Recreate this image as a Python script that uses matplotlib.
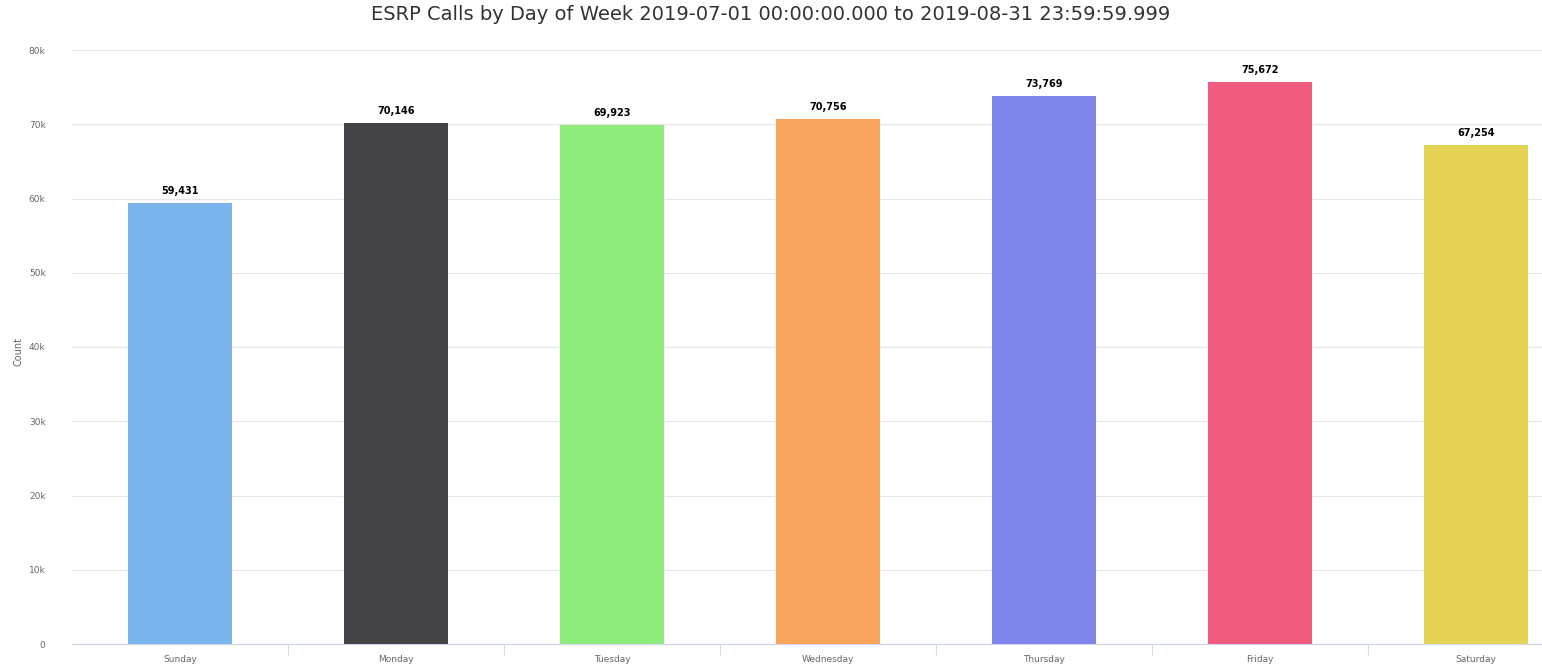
import matplotlib
matplotlib.use("Agg")
import matplotlib.pyplot as plt
from matplotlib.ticker import FuncFormatter, MultipleLocator

days = ["Sunday", "Monday", "Tuesday", "Wednesday", "Thursday", "Friday", "Saturday"]
calls = [59431, 70146, 69923, 70756, 73769, 75672, 67254]
colors = ["#7cb5ec", "#434348", "#90ed7d", "#f7a35c", "#8085e9", "#f15c80", "#e4d354"]

W, H = 1542, 667
fig = plt.figure(figsize=(W / 100, H / 100), dpi=100)
# plot area runs slightly past the right edge of the canvas
ax = fig.add_axes([72 / W, (H - 644) / H, (1584 - 72) / W, (644 - 50) / H])

x = range(len(days))
ax.bar(x, calls, width=0.477, color=colors, zorder=3)
for i, v in enumerate(calls):
    ax.annotate(f"{v:,}", (i, v), xytext=(0, 5), textcoords="offset points",
                ha="center", va="bottom", fontsize=7, fontweight="bold", color="#000000")

ax.set_xlim(-0.5, len(days) - 0.5)
ax.set_ylim(0, 80000)
ax.yaxis.set_major_locator(MultipleLocator(10000))
ax.yaxis.set_major_formatter(FuncFormatter(lambda v, p: "0" if v == 0 else f"{int(v/1000)}k"))
ax.grid(axis="y", color="#e6e6e6", linewidth=0.8, zorder=0)

ax.set_xticks(list(x))
ax.set_xticklabels(days)
ax.set_xticks([i + 0.5 for i in range(len(days) - 1)], minor=True)
ax.tick_params(axis="x", which="major", length=0, pad=8, labelsize=6.5, labelcolor="#666666")
ax.tick_params(axis="x", which="minor", length=8, color="#ccd6eb", direction="out")
ax.tick_params(axis="y", length=0, pad=19, labelsize=6.5, labelcolor="#666666")

for s in ["top", "right", "left"]:
    ax.spines[s].set_visible(False)
ax.spines["bottom"].set_color("#ccd6eb")

fig.text(18 / W, 1 - 352 / H, "Count", rotation=90, ha="center", va="center",
         fontsize=7, color="#666666")
fig.text(0.5, 1 - 15 / H, "ESRP Calls by Day of Week 2019-07-01 00:00:00.000 to 2019-08-31 23:59:59.999",
         ha="center", va="center", fontsize=14, color="#333333")

fig.savefig("out.png", dpi=100, facecolor="white")
